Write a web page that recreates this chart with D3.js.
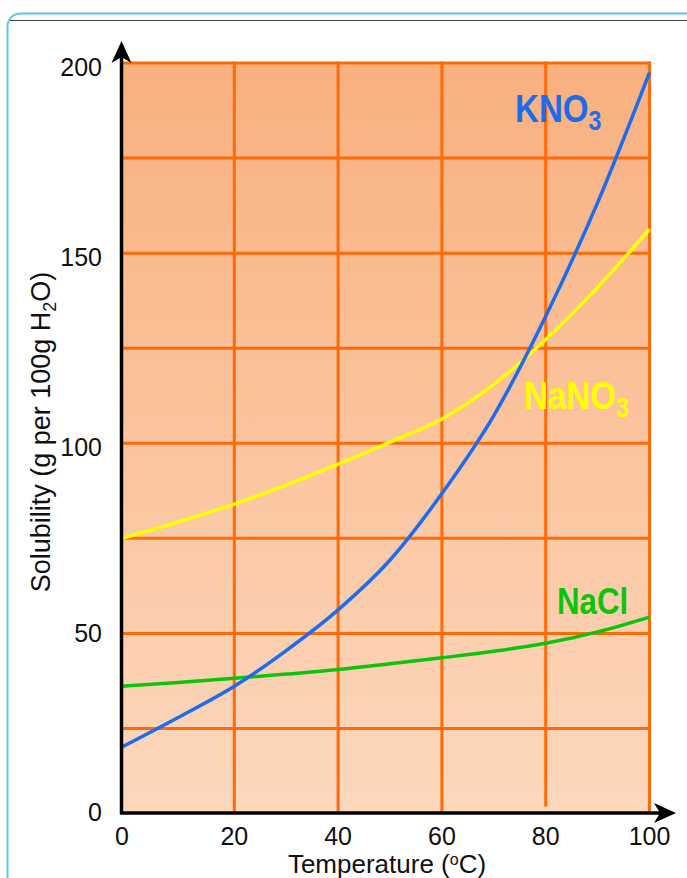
<!DOCTYPE html>
<html>
<head>
<meta charset="utf-8">
<script src="https://cdn.jsdelivr.net/npm/d3@7"></script>
<style>
  html, body { margin: 0; padding: 0; background: #ffffff; }
  svg { display: block; }
  text { font-family: "Liberation Sans", Arial, sans-serif; }
</style>
</head>
<body>
<svg id="chart" width="687" height="878"></svg>
<script>
// ---- data ----
const temperatures = [0, 10, 20, 30, 40, 50, 60, 70, 80, 90, 100];
const kno3Values  = [19.5, 27.9, 36.1, 45.5, 56.2, 69.3, 86.8, 107.3, 133.4, 163.3, 197.5];
const nano3Values = [75, 79.3, 84, 89, 94.5, 100.3, 106.4, 115.5, 127.3, 141, 156.3];
const naclValues  = [36.1, 37.1, 38.2, 39.3, 40.5, 42, 43.6, 45.3, 47.4, 50.4, 54.3];
const xTickValues = [0, 20, 40, 60, 80, 100];
const yTickValues = [0, 50, 100, 150, 200];
const yGridValues = [25, 50, 75, 100, 125, 150, 175, 200];
const xGridValues = [20, 40, 60, 80, 100];

const svg = d3.select("#chart");

// frame
svg.append("rect").attr("x", 7.5).attr("y", 13.5).attr("width", 700).attr("height", 900)
  .attr("rx", 13).attr("fill", "#ffffff").attr("stroke", "#5cc6ee").attr("stroke-width", 2);
svg.append("line").attr("x1", 10).attr("x2", 687).attr("y1", 20.5).attr("y2", 20.5)
  .attr("stroke", "#444").attr("stroke-width", 1);

// scales (piecewise, as in the reference drawing)
const x = d3.scaleLinear().domain([0, 20, 100]).range([122, 234.3, 649.5]);
const y = d3.scaleLinear().domain([0, 25, 200]).range([812.5, 728.5, 63]);

// background gradient
const defs = svg.append("defs");
const grad = defs.append("linearGradient").attr("id", "bg")
  .attr("x1", 0).attr("y1", 0).attr("x2", 0).attr("y2", 1);
grad.append("stop").attr("offset", "0%").attr("stop-color", "#f9b07f");
grad.append("stop").attr("offset", "100%").attr("stop-color", "#fdd8bd");

svg.append("rect")
  .attr("x", x(0)).attr("y", y(200))
  .attr("width", x(100) - x(0)).attr("height", y(0) - y(200))
  .attr("fill", "url(#bg)");

// grid
const gridColor = "#ff6a08";
svg.append("g").selectAll("line").data(yGridValues).join("line")
  .attr("x1", x(0)).attr("x2", x(100) + 1.5)
  .attr("y1", d => y(d)).attr("y2", d => y(d))
  .attr("stroke", gridColor).attr("stroke-width", 3);
svg.append("g").selectAll("line").data(xGridValues).join("line")
  .attr("x1", d => x(d)).attr("x2", d => x(d))
  .attr("y1", y(200) - 1.5).attr("y2", d => d === 80 ? y(0) - 6 : y(0))
  .attr("stroke", gridColor).attr("stroke-width", 3);

// curves
const line = d3.line().x((d, i) => x(temperatures[i])).y(d => y(d)).curve(d3.curveMonotoneX);
const series = [
  { values: naclValues, color: "#0cc40c" },
  { values: nano3Values, color: "#ffff00" },
  { values: kno3Values, color: "#1d6cef" }
];
svg.append("g").selectAll("path").data(series).join("path")
  .attr("d", d => line(d.values))
  .attr("fill", "none").attr("stroke", d => d.color).attr("stroke-width", 3.5);

// axes with arrows
svg.append("line").attr("x1", x(0) - 0.5).attr("x2", x(0) - 0.5)
  .attr("y1", y(0) + 1.5).attr("y2", 50).attr("stroke", "#000").attr("stroke-width", 3.5);
svg.append("line").attr("x1", x(0) - 2).attr("x2", 665)
  .attr("y1", y(0) + 0.5).attr("y2", y(0) + 0.5).attr("stroke", "#000").attr("stroke-width", 3.5);
// arrowheads
const ax = x(0) - 0.5;
svg.append("path")
  .attr("d", `M${ax},41 L${ax + 10},63 L${ax},57 L${ax - 10},63 Z`)
  .attr("fill", "#000");
const ay = y(0) + 0.5;
svg.append("path")
  .attr("d", `M676,${ay} L654,${ay - 10} L660,${ay} L654,${ay + 10} Z`)
  .attr("fill", "#000");

// tick labels
svg.append("g").selectAll("text").data(yTickValues).join("text")
  .attr("x", 102).attr("y", d => y(d) + (d >= 100 ? 4 : 0))
  .attr("dy", "0.35em")
  .attr("text-anchor", "end").attr("font-size", 25).attr("fill", "#111")
  .text(d => d);
svg.append("g").selectAll("text").data(xTickValues).join("text")
  .attr("x", d => x(d)).attr("y", 845)
  .attr("text-anchor", "middle").attr("font-size", 25).attr("fill", "#111")
  .text(d => d);

// axis titles
const xt = svg.append("text").attr("x", 387).attr("y", 873)
  .attr("text-anchor", "middle").attr("font-size", 26).attr("fill", "#111");
xt.append("tspan").text("Temperature (");
xt.append("tspan").attr("font-size", 16).attr("dy", -8).text("o");
xt.append("tspan").attr("dy", 8).text("C)");

const yt = svg.append("text").attr("transform", "translate(50,432) rotate(-90)")
  .attr("text-anchor", "middle").attr("font-size", 27).attr("fill", "#111");
yt.append("tspan").text("Solubility (g per 100g H");
yt.append("tspan").attr("font-size", 18).attr("dy", 6).text("2");
yt.append("tspan").attr("dy", -6).text("O)");

// series labels
function chemLabel(main, sub, px, py, color, fs) {
  const t = svg.append("text").attr("x", 0).attr("y", 0)
    .attr("font-size", fs).attr("font-weight", "bold").attr("fill", color)
    .attr("transform", `translate(${px},${py}) scale(0.92,1.1)`);
  t.append("tspan").text(main);
  if (sub) t.append("tspan").attr("font-size", fs * 0.7).attr("dy", 8).text(sub);
  return t;
}
chemLabel("KNO", "3", 515, 121.5, "#1d6cef", 36);
chemLabel("NaNO", "3", 524, 408.5, "#ffff00", 36);
chemLabel("NaCl", null, 557, 614, "#0cc40c", 34);
</script>
</body>
</html>
